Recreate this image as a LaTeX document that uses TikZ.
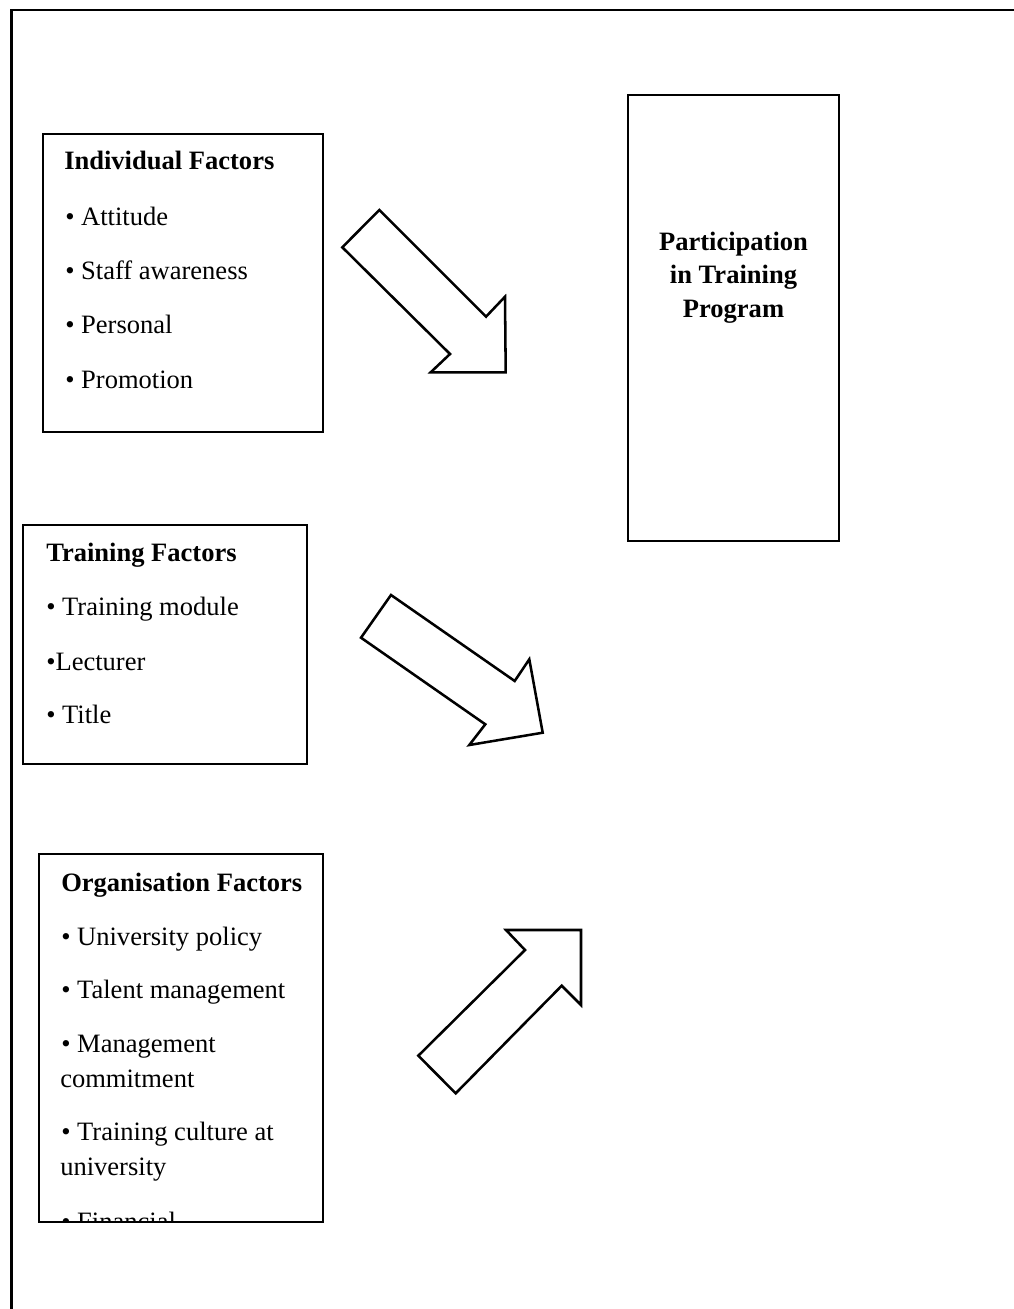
\documentclass[tikz,border=0pt]{standalone}
\usepackage{fontspec}
\setmainfont{Liberation Serif}
\usetikzlibrary{fit}
\begin{document}
\begin{tikzpicture}[x=0.75pt,y=-0.75pt,
  frameline/.style={line width=2.2pt},
  box/.style={draw, line width=1.6pt, rectangle, inner sep=0pt},
  blockarrow/.style={draw, line width=1.9pt, fill=white, line join=miter},
  txt/.style={anchor=base west, inner sep=0pt, font=\fontsize{19.9pt}{26.25pt}\selectfont},
  ttl/.style={txt, font=\fontsize{19.9pt}{26.25pt}\selectfont\bfseries},
  ctr/.style={anchor=base, inner sep=0pt, font=\fontsize{19.9pt}{24.75pt}\selectfont\bfseries}]
\useasboundingbox (0,0) rectangle (1013,1309);
\fill[white] (0,0) rectangle (1013,1309);

% outer frame (left and top edges)
\coordinate (fbl) at (11.5,1312);
\coordinate (ftl) at (11.5,10);
\coordinate (ftr) at (1016,10);
\draw[frameline] (fbl) -- (ftl) -- (ftr);

% Individual factors
\node[box, fit={(43,134) (323,432)}] (ind) {};
\node[ttl] (ind0) at (64,170) {Individual Factors};
\node[txt] (ind1) at (65,225) {• Attitude};
\node[txt] (ind2) at (65,279) {• Staff awareness};
\node[txt] (ind3) at (65,333) {• Personal};
\node[txt] (ind4) at (65,388) {• Promotion};

% Participation
\node[box, fit={(628,95) (839,541)}] (par) {};
\node[ctr] (par1) at (733.5,250) {Participation};
\node[ctr] (par2) at (733.5,283) {in Training};
\node[ctr] (par3) at (733.5,317) {Program};

% Training factors
\node[box, fit={(23,525) (307,764)}] (trn) {};
\node[ttl] (trn0) at (46,561) {Training Factors};
\node[txt] (trn1) at (46,615) {• Training module};
\node[txt] (trn2) at (46,670) {•Lecturer};
\node[txt] (trn3) at (46,723) {• Title};

% Organisation factors
\begin{scope}
  \clip (39,854) rectangle (323,1222);
  \node[txt] (org7) at (61,1230) {• Financial};
\end{scope}
\node[box, fit={(39,854) (323,1222)}] (org) {};
\node[ttl] (org0) at (61,891) {Organisation Factors};
\node[txt] (org1) at (61,945) {• University policy};
\node[txt] (org2) at (61,998) {• Talent management};
\node[txt] (org3) at (61,1052) {• Management};
\node[txt] (org4) at (60,1087) {commitment};
\node[txt] (org5) at (61,1140) {• Training culture at};
\node[txt] (org6) at (60,1175) {university};

% block arrows
\draw[blockarrow] (379.3,210) -- (342.3,247.3) -- (450,354) -- (430.7,372.3)
  -- (505.7,372.3) -- (505,296.7) -- (486,316.7) -- cycle;
\draw[blockarrow] (391,595) -- (361,637.7) -- (485.3,724.3) -- (469.3,745)
  -- (542.7,732.7) -- (529.3,659.3) -- (514.7,681) -- cycle;
\draw[blockarrow] (418.3,1055.7) -- (455.7,1093.3) -- (561.7,985.7) -- (581,1005)
  -- (581,930) -- (506,930) -- (525,950) -- cycle;
\end{tikzpicture}
\end{document}
